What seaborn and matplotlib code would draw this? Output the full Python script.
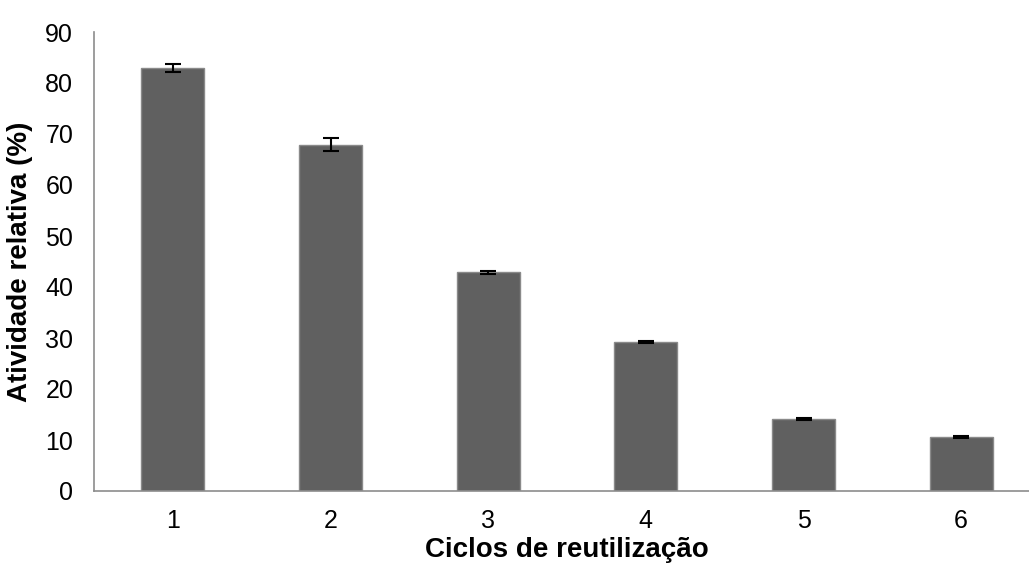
import numpy as np
import pandas as pd
import seaborn as sns
import matplotlib.pyplot as plt
from matplotlib.ticker import FixedLocator

cycles = ["1", "2", "3", "4", "5", "6"]
activity = [83.0, 67.9, 42.9, 29.3, 14.1, 10.6]
errors = [0.8, 1.3, 0.3, 0.2, 0.2, 0.15]

sns.set_theme(style="white")
plt.rcParams['font.family'] = ['Liberation Sans', 'DejaVu Sans']

df = pd.DataFrame({"ciclo": cycles, "atividade": activity})

fig = plt.figure(figsize=(10.29, 5.63), dpi=100)
ax = fig.add_axes([94 / 1029, 72 / 563, 946 / 1029, 459 / 563])

sns.barplot(data=df, x="ciclo", y="atividade", color="#606060", width=0.4,
            saturation=1, edgecolor="#8a8a8a", linewidth=1, errorbar=None, ax=ax)
ax.errorbar(np.arange(len(cycles)), activity, yerr=errors, fmt="none",
            ecolor="black", elinewidth=1.5, capsize=6, capthick=1.5)

ax.set_xlim(-0.5, len(cycles) - 0.5)
ax.set_ylim(0, 90)
ax.set_yticks(range(0, 91, 10))
ax.tick_params(axis="y", length=0, labelsize=18, pad=15, labelcolor="black")
ax.tick_params(axis="x", which="major", length=0, labelsize=18, pad=13, labelcolor="black")
ax.xaxis.set_minor_locator(FixedLocator(np.arange(-0.5, len(cycles), 1.0)))
ax.tick_params(axis="x", which="minor", length=6, width=1, color="#8c8c8c", direction="out")

for side in ["top", "right"]:
    ax.spines[side].set_visible(False)
for side in ["left", "bottom"]:
    ax.spines[side].set_color("#8c8c8c")
    ax.spines[side].set_linewidth(1.2)

ax.set_xlabel("Ciclos de reutilização", fontsize=20, fontweight="bold", labelpad=3, color="black")
ax.set_ylabel("Atividade relativa (%)", fontsize=20, fontweight="bold", labelpad=9, color="black")

fig.savefig("out.png", dpi=100)
